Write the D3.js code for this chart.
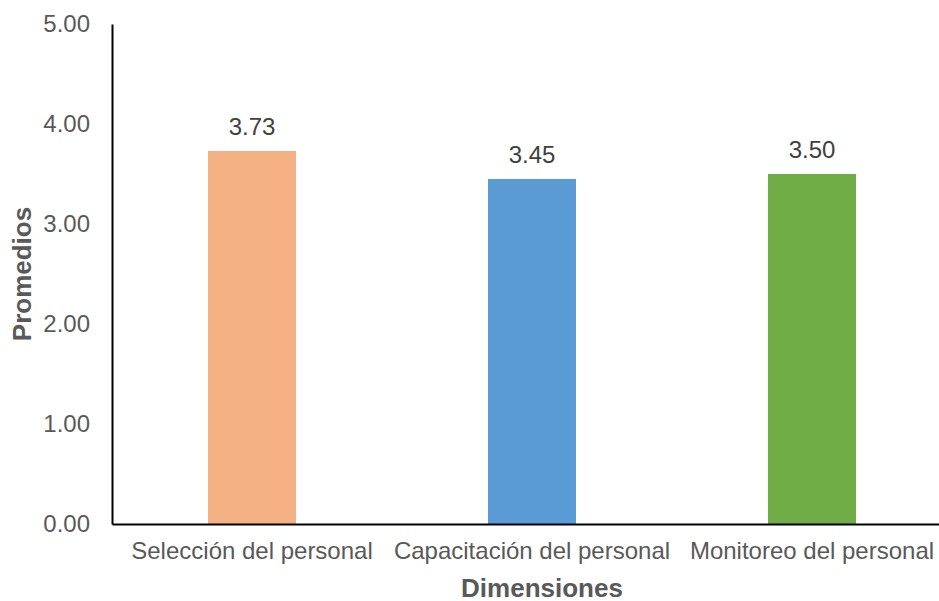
<!DOCTYPE html>
<html>
  <head>
    <script type="text/javascript" src="https://cdn.jsdelivr.net/npm/d3@7"></script>
    <style>
      body { margin: 0; background: #fff; }
      text { font-family: "Liberation Sans", Arial, sans-serif; }
    </style>
  </head>
  <body>
    <script type="text/javascript">
      // chart data
      var categories = ["Selección del personal", "Capacitación del personal", "Monitoreo del personal"];
      var values = [3.73, 3.45, 3.50];
      var barColors = ["#F4B183", "#5B9BD5", "#70AD47"];
      var yTicks = [0, 1, 2, 3, 4, 5];

      var w = 939;
      var h = 601;
      // plot box (note: "top" is reserved on window, so use plotTop)
      var plotLeft = 112, plotTop = 24, plotBottom = 524, plotRight = 952;

      var svg = d3.select("body").append("svg")
        .attr("width", w)
        .attr("height", h);

      var xScale = d3.scaleBand()
        .domain(categories)
        .range([plotLeft, plotRight])
        .paddingInner(0.6857)
        .paddingOuter(0.3429);

      var yScale = d3.scaleLinear()
        .domain([0, 5])
        .range([plotBottom, plotTop]);

      // bars
      svg.selectAll("rect.bar")
        .data(values)
        .enter()
        .append("rect")
        .attr("class", "bar")
        .attr("x", (d, i) => xScale(categories[i]))
        .attr("y", d => yScale(d))
        .attr("width", xScale.bandwidth())
        .attr("height", d => plotBottom - yScale(d))
        .attr("fill", (d, i) => barColors[i]);

      // value labels
      svg.selectAll("text.val")
        .data(values)
        .enter()
        .append("text")
        .attr("class", "val")
        .attr("x", (d, i) => xScale(categories[i]) + xScale.bandwidth() / 2)
        .attr("y", d => yScale(d) - 16)
        .attr("text-anchor", "middle")
        .attr("font-size", "24px")
        .attr("fill", "#404040")
        .text(d => d.toFixed(2));

      // y axis
      var yAxis = d3.axisLeft(yScale)
        .tickValues(yTicks)
        .tickSize(0)
        .tickPadding(22)
        .tickFormat(d => d.toFixed(2));
      var gy = svg.append("g")
        .attr("transform", "translate(" + plotLeft + ",0)")
        .call(yAxis);
      gy.select(".domain").attr("stroke", "#000").attr("stroke-width", 2);
      gy.selectAll("text")
        .attr("font-size", "24px")
        .attr("fill", "#595959")
        .style("font-family", "'Liberation Sans', Arial, sans-serif");

      // x axis
      var xAxis = d3.axisBottom(xScale)
        .tickSize(0)
        .tickPadding(18);
      var gx = svg.append("g")
        .attr("transform", "translate(0," + plotBottom + ")")
        .call(xAxis);
      gx.select(".domain").attr("stroke", "#000").attr("stroke-width", 2);
      gx.selectAll("text")
        .attr("font-size", "24px")
        .attr("fill", "#595959")
        .style("font-family", "'Liberation Sans', Arial, sans-serif");

      // axis titles
      svg.append("text")
        .attr("x", 542)
        .attr("y", 597)
        .attr("text-anchor", "middle")
        .attr("font-size", "26px")
        .attr("font-weight", "bold")
        .attr("fill", "#595959")
        .text("Dimensiones");

      svg.append("text")
        .attr("transform", "translate(31,274) rotate(-90)")
        .attr("text-anchor", "middle")
        .attr("font-size", "26px")
        .attr("font-weight", "bold")
        .attr("fill", "#595959")
        .text("Promedios");
    </script>
  </body>
</html>
